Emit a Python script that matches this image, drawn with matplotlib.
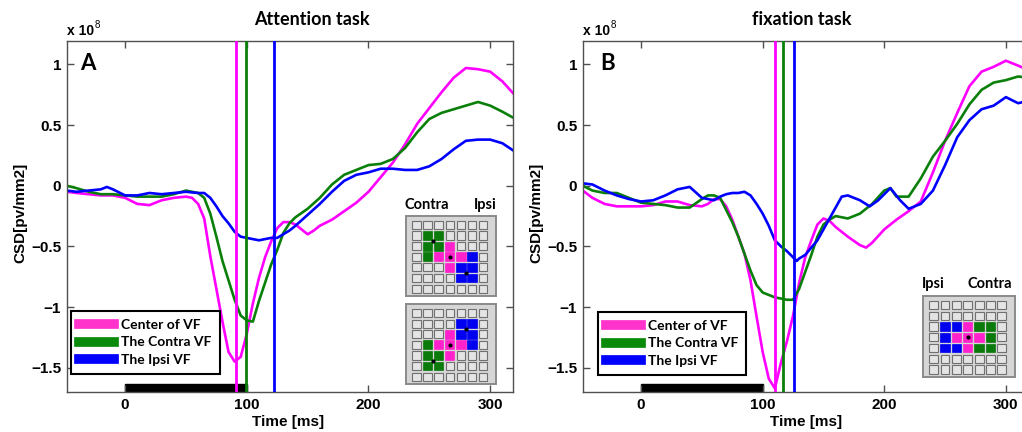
import matplotlib
matplotlib.use("Agg")
import matplotlib.pyplot as plt
from matplotlib.patches import Rectangle
from matplotlib.lines import Line2D

# ---------------- data (time in ms, CSD in units of 1e8 pv/mm2) ----------------
# Panel A: attention task
att_center_t = [-48, -40, -30, -20, -10, 0, 10, 20, 30, 40, 50, 55, 60, 65, 70, 75, 80, 85, 90,
                95, 100, 105, 110, 115, 120, 125, 130, 135, 140, 150, 155, 160, 170, 180, 190, 200,
                210, 220, 230, 240, 250, 260, 270, 280, 290, 300, 310, 319]
att_center_v = [-0.05, -0.06, -0.07, -0.08, -0.08, -0.10, -0.15, -0.16, -0.12, -0.10, -0.09, -0.10,
                -0.15, -0.27, -0.58, -0.85, -1.12, -1.37, -1.45, -1.41, -1.22, -0.97, -0.76, -0.59,
                -0.46, -0.35, -0.30, -0.30, -0.32, -0.40, -0.37, -0.33, -0.28, -0.21, -0.14, -0.05,
                0.07, 0.19, 0.34, 0.51, 0.64, 0.77, 0.89, 0.97, 0.96, 0.94, 0.86, 0.76]
att_contra_t = [-48, -40, -30, -20, -10, 0, 10, 20, 30, 40, 50, 55, 60, 65, 70, 75, 80, 85, 90, 95,
                100, 105, 110, 115, 120, 125, 130, 135, 140, 150, 160, 170, 180, 190, 200, 210, 220,
                230, 240, 250, 260, 270, 280, 290, 300, 310, 319]
att_contra_v = [0.00, -0.02, -0.05, -0.07, -0.07, -0.08, -0.09, -0.09, -0.09, -0.07, -0.04, -0.05,
                -0.06, -0.10, -0.23, -0.42, -0.62, -0.78, -0.94, -1.07, -1.11, -1.12, -0.95, -0.80,
                -0.65, -0.53, -0.39, -0.31, -0.26, -0.19, -0.10, 0.01, 0.09, 0.13, 0.17, 0.18, 0.22,
                0.31, 0.44, 0.55, 0.60, 0.63, 0.66, 0.69, 0.66, 0.61, 0.56]
att_ipsi_t = [-48, -40, -30, -20, -15, -10, 0, 10, 20, 30, 40, 50, 60, 65, 70, 75, 80, 85, 90, 95,
              100, 105, 110, 115, 120, 125, 130, 135, 140, 150, 160, 170, 180, 190, 200, 210, 220,
              230, 240, 250, 260, 270, 280, 290, 300, 310, 319]
att_ipsi_v = [-0.04, -0.05, -0.04, -0.03, -0.01, -0.03, -0.08, -0.08, -0.06, -0.07, -0.06, -0.05,
              -0.06, -0.06, -0.10, -0.17, -0.25, -0.31, -0.38, -0.42, -0.43, -0.44, -0.45, -0.44,
              -0.43, -0.43, -0.40, -0.37, -0.33, -0.24, -0.15, -0.05, 0.04, 0.09, 0.11, 0.14, 0.14,
              0.13, 0.13, 0.16, 0.22, 0.30, 0.37, 0.38, 0.38, 0.35, 0.29]
att_peaks = [91, 99, 122]

# Panel B: fixation task
fix_center_t = [-48, -40, -30, -20, -10, 0, 10, 20, 30, 40, 50, 55, 60, 65, 70, 75, 80, 85, 90, 95,
                100, 105, 110, 115, 120, 125, 130, 135, 140, 145, 150, 155, 160, 170, 180, 185, 190,
                200, 210, 220, 230, 240, 250, 260, 270, 280, 290, 300, 310, 319]
fix_center_v = [-0.04, -0.10, -0.15, -0.17, -0.17, -0.17, -0.16, -0.13, -0.13, -0.16, -0.17, -0.15,
                -0.11, -0.11, -0.17, -0.28, -0.42, -0.56, -0.78, -1.08, -1.37, -1.59, -1.67, -1.46,
                -1.28, -1.07, -0.80, -0.59, -0.45, -0.32, -0.27, -0.29, -0.34, -0.42, -0.49, -0.51,
                -0.47, -0.36, -0.28, -0.21, -0.13, 0.11, 0.37, 0.60, 0.82, 0.94, 0.98, 1.03, 0.99,
                0.95]
fix_contra_t = [-48, -40, -30, -20, -10, 0, 10, 20, 30, 40, 50, 55, 60, 65, 70, 75, 80, 85, 90, 95,
                100, 105, 110, 115, 120, 125, 130, 135, 140, 145, 150, 155, 160, 170, 180, 190, 200,
                205, 210, 220, 230, 240, 250, 260, 270, 280, 290, 300, 310, 319]
fix_contra_v = [0.00, -0.04, -0.06, -0.06, -0.10, -0.14, -0.15, -0.16, -0.18, -0.18, -0.11, -0.08,
                -0.08, -0.10, -0.20, -0.30, -0.42, -0.56, -0.70, -0.82, -0.88, -0.90, -0.92, -0.93,
                -0.94, -0.94, -0.85, -0.71, -0.57, -0.42, -0.32, -0.28, -0.25, -0.27, -0.23, -0.15,
                -0.04, -0.02, -0.09, -0.09, 0.06, 0.24, 0.37, 0.51, 0.67, 0.79, 0.85, 0.87, 0.90,
                0.89]
fix_ipsi_t = [-48, -40, -30, -20, -10, 0, 10, 20, 30, 40, 50, 55, 60, 65, 70, 75, 80, 85, 90, 95,
              100, 105, 110, 115, 120, 125, 128, 130, 135, 140, 145, 150, 155, 160, 165, 170, 180,
              188, 195, 205, 213, 220, 230, 240, 250, 260, 270, 280, 290, 300, 310, 319]
fix_ipsi_v = [0.02, 0.01, -0.04, -0.08, -0.11, -0.13, -0.12, -0.08, -0.03, -0.01, -0.10, -0.11,
              -0.12, -0.09, -0.07, -0.06, -0.06, -0.05, -0.08, -0.15, -0.23, -0.33, -0.45, -0.50,
              -0.54, -0.59, -0.62, -0.60, -0.57, -0.51, -0.45, -0.36, -0.27, -0.18, -0.09, -0.08,
              -0.12, -0.17, -0.12, -0.02, -0.12, -0.19, -0.15, -0.04, 0.17, 0.40, 0.54, 0.63, 0.66,
              0.73, 0.68, 0.70]
fix_peaks = [110, 117, 126]

stimulus_on = [0, 100]
series_names = ["Center of VF", "The Contra VF", "The Ipsi VF"]
x_ticks = [0, 100, 200, 300]
y_ticks = [1, 0.5, 0, -0.5, -1, -1.5]
y_tick_labels = ["1", "0.5", "0", "\u22120.5", "\u22121", "\u22121.5"]

# Electrode maps: '.' unused, M centre, G contralateral, B ipsilateral
map_att_top = [".......",
               ".GG....",
               ".GGM...",
               ".GMMMB.",
               "...MBB.",
               "....BB.",
               "......."]
map_att_bottom = [".......",
                  "....BB.",
                  "...MBB.",
                  ".GMMMB.",
                  ".GGM...",
                  ".GG....",
                  "......."]
map_fix = [".......",
           ".......",
           ".BBMGG.",
           ".BMMMG.",
           ".BBMGG.",
           ".......",
           "......."]
dots_att_top = [(3, 3), (1.5, 1.5), (4.5, 4.5)]
dots_att_bottom = [(3, 3), (1.5, 4.5), (4.5, 1.5)]
dots_fix = [(3, 3)]

# ---------------- styling ----------------
C_MAG, C_GRN, C_BLU = "#ff00ff", "#0a800a", "#0000ff"
SQ = {"M": "#ff22cc", "G": "#0a7a0a", "B": "#0000f0"}
TICK_FONT = "Liberation Sans"
TEXT_FONT = ["Lato", "DejaVu Sans"]
SPINE = "#505050"

plt.rcParams["font.family"] = [TICK_FONT, "DejaVu Sans"]
plt.rcParams["font.weight"] = "bold"
plt.rcParams["axes.unicode_minus"] = True

W, H = 1022, 432
fig = plt.figure(figsize=(W / 100, H / 100), dpi=100)
fig.patch.set_facecolor("white")


def px_axes(left, top, right, bottom):
    return fig.add_axes([left / W, 1 - bottom / H, (right - left) / W, (bottom - top) / H])


def ftext(x, y, s, **kw):
    return fig.text(x / W, 1 - y / H, s, **kw)


def draw_panel(ax, curves, peaks):
    colors = [C_MAG, C_GRN, C_BLU]
    ax.add_patch(Rectangle((stimulus_on[0], -1.71), stimulus_on[1] - stimulus_on[0], 0.075,
                           facecolor="black", edgecolor="black", zorder=1))
    for (t, v), c in zip(curves, colors):
        ax.plot(t, v, color=c, lw=1.9, zorder=2, solid_joinstyle="round")
    for p, c in zip(peaks, colors):
        ax.axvline(p, color=c, lw=2.0, zorder=3)
    ax.set_xlim(-48, 319)
    ax.set_ylim(-1.70, 1.195)
    ax.set_xticks(x_ticks, [str(x) for x in x_ticks], fontweight="bold", fontfamily=TICK_FONT)
    ax.set_yticks(y_ticks, y_tick_labels, fontweight="bold", fontfamily=TICK_FONT)
    ax.tick_params(direction="in", top=True, right=True, length=5, width=1, color=SPINE,
                   labelsize=11, pad=4)
    for s in ax.spines.values():
        s.set_color(SPINE)
        s.set_linewidth(1.0)
    return [Line2D([], [], color=c, lw=7) for c in ["#ff33cc", "#0a8a0a", "#0000ff"]]


def draw_map(ax, grid, dots):
    ax.set_xlim(0, 92)
    ax.set_ylim(82, 0)
    ax.axis("off")
    ax.add_patch(Rectangle((0.6, 0.6), 90.8, 80.8, facecolor="#d6d6d6", edgecolor="#8a8a8a",
                           lw=1.4))
    for r, row in enumerate(grid):
        for c, ch in enumerate(row):
            cx, cy = 11.5 + 11.1 * c, 10.0 + 10.6 * r
            if ch == ".":
                ax.add_patch(Rectangle((cx - 4.3, cy - 4.1), 8.6, 8.2, facecolor="#e4e4e4",
                                       edgecolor="#707070", lw=0.8))
            else:
                ax.add_patch(Rectangle((cx - 4.6, cy - 4.4), 9.2, 8.8, facecolor=SQ[ch],
                                       edgecolor=SQ[ch], lw=0.5))
    for r, c in dots:
        ax.plot(11.5 + 11.1 * c, 10.0 + 10.6 * r, "o", color="black", ms=2.0)


axA = px_axes(66.7, 40.7, 513.3, 392)
axB = px_axes(582.7, 40.7, 1029, 392)

hA = draw_panel(axA, [(att_center_t, att_center_v), (att_contra_t, att_contra_v),
                      (att_ipsi_t, att_ipsi_v)], att_peaks)
hB = draw_panel(axB, [(fix_center_t, fix_center_v), (fix_contra_t, fix_contra_v),
                      (fix_ipsi_t, fix_ipsi_v)], fix_peaks)

for ax, h, anchor in [(axA, hA, (0.0096, 0.0512)), (axB, hB, (0.0336, 0.0484))]:
    leg = ax.legend(h, series_names, loc="lower left", bbox_to_anchor=anchor, borderaxespad=0,
                    fancybox=False, framealpha=1, edgecolor="black", handlelength=2.5,
                    handletextpad=0.5, labelspacing=0.38, borderpad=0.6,
                    prop={"family": TEXT_FONT, "weight": "bold", "size": 10})
    leg.get_frame().set_linewidth(1.5)
    leg.set_zorder(5)

# titles, axis labels, panel letters, exponent
for cx, title in [(312, "Attention task"), (802, "fixation task")]:
    ftext(cx, 25, title, ha="center", va="baseline", family=TEXT_FONT, weight="bold", fontsize=13)
for x0 in (66.7, 582.7):
    ftext(x0, 35, "x 10", ha="left", va="baseline", family=TICK_FONT, weight="bold", fontsize=10)
    ftext(x0 + 27.5, 28.5, "8", ha="left", va="baseline", family=TICK_FONT, weight="normal",
          fontsize=7)
for cx in (288, 806):
    ftext(cx, 422, "Time [ms]", ha="center", va="center", family=TICK_FONT, weight="bold",
          fontsize=11)
for cx in (20, 536.5):
    ftext(cx, 213, "CSD[pv/mm2]", ha="center", va="center", rotation=90, family=TICK_FONT,
          weight="bold", fontsize=11)
ftext(80, 70, "A", ha="left", va="baseline", family=TEXT_FONT, weight="bold", fontsize=16)
ftext(600, 70, "B", ha="left", va="baseline", family=TEXT_FONT, weight="bold", fontsize=16)

# electrode maps
draw_map(px_axes(405, 215, 497, 297), map_att_top, dots_att_top)
draw_map(px_axes(405, 303, 497, 385), map_att_bottom, dots_att_bottom)
draw_map(px_axes(922, 295, 1016, 378), map_fix, dots_fix)
for cx, s in [(427, "Contra"), (485, "Ipsi"), (933, "Ipsi"), (990, "Contra")]:
    y = 209 if cx < 520 else 288
    ftext(cx, y, s, ha="center", va="baseline", family=TEXT_FONT, weight="bold", fontsize=10.5)

fig.savefig("out.png", dpi=100, facecolor="white")
